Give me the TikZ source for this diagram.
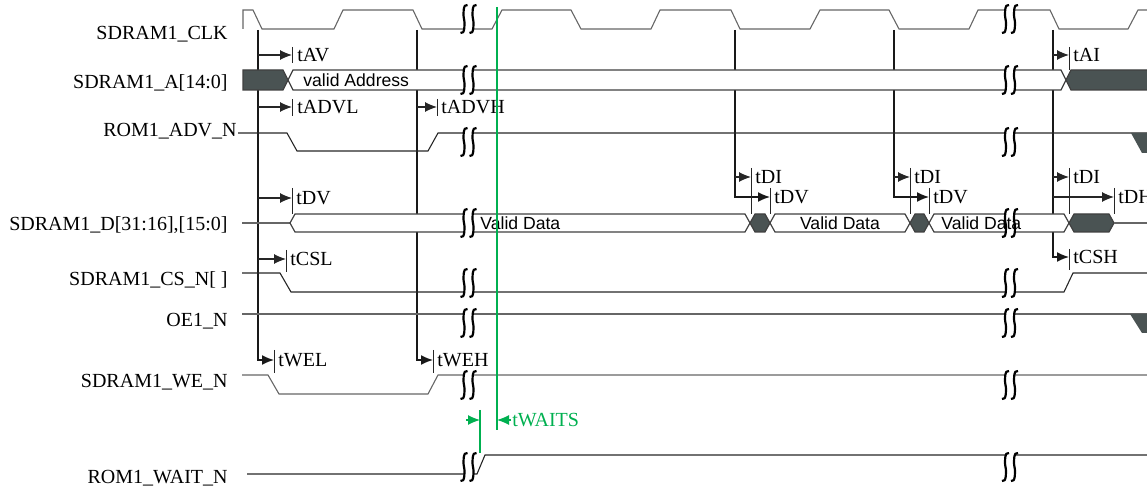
\documentclass[tikz,border=0pt]{standalone}
\usepackage{fontspec}
\setmainfont{Liberation Serif}
\setsansfont{Liberation Sans}
\usetikzlibrary{arrows.meta}
\usetikzlibrary{positioning}

\definecolor{busfill}{HTML}{4A5353}
\definecolor{waitgreen}{HTML}{00B050}

% break mark: centre x, centre y
\newcommand{\wavebreak}[2]{%
  \fill[white] ({#1-1},{#2-14}) .. controls ({#1-5.5},{#2-16}) and ({#1-5.5},{#2-4}) .. ({#1-4.5},{#2})
    .. controls ({#1-3.5},{#2+4}) and ({#1-3.5},{#2+16}) .. ({#1-8},{#2+14})
    -- ({#1+1},{#2+14}) .. controls ({#1+5.5},{#2+16}) and ({#1+5.5},{#2+4}) .. ({#1+4.5},{#2})
    .. controls ({#1+3.5},{#2-4}) and ({#1+3.5},{#2-16}) .. ({#1+8},{#2-14}) -- cycle;
  \draw[brk] ({#1-1},{#2-14}) .. controls ({#1-5.5},{#2-16}) and ({#1-5.5},{#2-4}) .. ({#1-4.5},{#2})
    .. controls ({#1-3.5},{#2+4}) and ({#1-3.5},{#2+16}) .. ({#1-8},{#2+14});
  \draw[brk] ({#1+8},{#2-14}) .. controls ({#1+3.5},{#2-16}) and ({#1+3.5},{#2-4}) .. ({#1+4.5},{#2})
    .. controls ({#1+5.5},{#2+4}) and ({#1+5.5},{#2+16}) .. ({#1+1},{#2+14});
}

\begin{document}
\begin{tikzpicture}[x=0.5pt, y=-0.5pt,
    sig/.style={black!85, line width=0.55pt},
    faint/.style={black!60, line width=0.55pt},
    bus/.style={draw=black!75, fill=white, line width=0.6pt},
    busdark/.style={draw=black!75, fill=busfill, line width=0.6pt},
    refline/.style={black!90, line width=0.75pt},
    tmark/.style={black!85, line width=0.5pt},
    arr/.style={-{Latex[length=6pt, width=5pt]}},
    brk/.style={black, line width=1.1pt},
    lbl/.style={anchor=base east, inner sep=0pt, font=\fontsize{10}{12}\selectfont},
    tlbl/.style={inner sep=0pt, font=\fontsize{10}{12}\selectfont},
    val/.style={inner sep=0pt, font=\sffamily\fontsize{8.8}{10}\selectfont}]

    \useasboundingbox (0,0) rectangle (1147,486);

    % signal names
    \node[lbl] (lclk) at (228,40) {SDRAM1\_CLK};
    \node[lbl] (laddr) at (228,89) {SDRAM1\_A[14:0]};
    \node[lbl] (ladv) at (237,137) {ROM1\_ADV\_N};
    \node[lbl] (ldata) at (228,231) {SDRAM1\_D[31:16],[15:0]};
    \node[lbl] (lcs) at (228,286) {SDRAM1\_CS\_N[ ]};
    \node[lbl] (loe) at (228,327) {OE1\_N};
    \node[lbl] (lwe) at (228,388) {SDRAM1\_WE\_N};
    \node[lbl] (lwait) at (228,483) {ROM1\_WAIT\_N};

    % reference lines and timing arrows
    \draw[refline, arr] (258,30) -- (258,360) -- (274,360);
    \draw[refline, arr] (417,30) -- (417,360) -- (433,360);
    \draw[refline, arr] (735,30) -- (735,197) -- (770,197);
    \draw[refline, arr] (894,30) -- (894,197) -- (929,197);
    \draw[refline, arr] (1053,30) -- (1053,257) -- (1069,257);
    \draw[sig, arr] (258,55) -- (292,55);
    \draw[sig, arr] (258,107) -- (292,107);
    \draw[sig, arr] (417,107) -- (437,107);
    \draw[sig, arr] (258,198) -- (292,198);
    \draw[sig, arr] (258,259) -- (286,259);
    \draw[sig, arr] (735,177) -- (751,177);
    \draw[sig, arr] (894,177) -- (910,177);
    \draw[sig, arr] (1053,55) -- (1069,55);
    \draw[sig, arr] (1053,177) -- (1069,177);
    \draw[sig, arr] (1053,197) -- (1114,197);

    % ticks
    \draw[tmark] (292,47) -- (292,63);
    \draw[tmark] (292,99) -- (292,116);
    \draw[tmark] (437,99) -- (437,116);
    \draw[tmark] (292,188) -- (292,214);
    \draw[tmark] (286,250) -- (286,272);
    \draw[tmark] (274,350) -- (274,373);
    \draw[tmark] (433,350) -- (433,373);
    \draw[tmark] (751,168) -- (751,214);
    \draw[tmark] (770,188) -- (770,214);
    \draw[tmark] (910,168) -- (910,214);
    \draw[tmark] (929,188) -- (929,214);
    \draw[tmark] (1069,47) -- (1069,70);
    \draw[tmark] (1069,168) -- (1069,214);
    \draw[tmark] (1114,188) -- (1114,214);
    \draw[tmark] (1069,249) -- (1069,270);

    % SDRAM1_CLK
    \draw[faint] (243,29) -- (243,10) -- (253,10) -- (262,29) -- (334,29) -- (343,10)
        -- (413,10) -- (422,29) -- (492,29) -- (502,10) -- (571,10) -- (581,29)
        -- (651,29) -- (660,10) -- (731,10) -- (740,29) -- (810,29) -- (820,10)
        -- (889,10) -- (899,29) -- (969,29) -- (978,10) -- (1050,10) -- (1059,29)
        -- (1128,29) -- (1138,10) -- (1150,10);

    % SDRAM1_A
    \draw[busdark] (243,70) -- (283,70) -- (288,80) -- (283,90) -- (243,90) -- cycle;
    \draw[bus] (288,80) -- (293,70) -- (1061,70) -- (1066,80) -- (1061,90) -- (293,90) -- cycle;
    \draw[busdark] (1066,80) -- (1071,70) -- (1152,70) -- (1152,90) -- (1071,90) -- cycle;

    % ROM1_ADV_N
    \draw[sig] (238,133) -- (287,133) -- (297,151) -- (428,151) -- (438,133) -- (1150,133);
    \fill[busfill] (1131,133) -- (1152,133) -- (1152,153) -- (1142,153) -- cycle;

    % SDRAM1_D
    \draw[faint] (242,223) -- (290,223);
    \draw[bus] (290,223) -- (295,214) -- (745,214) -- (750,223) -- (745,232) -- (295,232) -- cycle;
    \draw[busdark] (750,223) -- (755,214) -- (765,214) -- (770,223) -- (765,232) -- (755,232) -- cycle;
    \draw[bus] (770,223) -- (775,214) -- (905,214) -- (910,223) -- (905,232) -- (775,232) -- cycle;
    \draw[busdark] (910,223) -- (915,214) -- (924,214) -- (929,223) -- (924,232) -- (915,232) -- cycle;
    \draw[bus] (929,223) -- (934,214) -- (1064,214) -- (1069,223) -- (1064,232) -- (934,232) -- cycle;
    \draw[busdark] (1069,223) -- (1074,214) -- (1109,214) -- (1114,223) -- (1109,232) -- (1074,232) -- cycle;
    \draw[faint] (1114,223) -- (1150,223);

    % SDRAM1_CS_N
    \draw[sig] (242,273) -- (280,273) -- (291,292) -- (1064,292) -- (1073,273) -- (1150,273);

    % OE1_N
    \draw[faint] (242,314) -- (1150,314);
    \fill[busfill] (1130,314) -- (1152,314) -- (1152,333) -- (1142,333) -- cycle;

    % SDRAM1_WE_N
    \draw[faint] (242,375) -- (268,375) -- (279,394) -- (428,394) -- (438,375) -- (1150,375);

    % ROM1_WAIT_N
    \draw[sig] (247,474) -- (477,474) -- (485,455) -- (1150,455);

    % breaks
    \foreach \yb in {19,80,142,223,283,323,385,467} {
        \wavebreak{468.5}{\yb}
        \wavebreak{1010}{\yb}
    }

    % timing names
    \node[tlbl, anchor=west] (tav) at (297,55) {tAV};
    \node[tlbl, anchor=west] (tadvl) at (297,107) {tADVL};
    \node[tlbl, anchor=west] (tadvh) at (441,107) {tADVH};
    \node[tlbl, anchor=west] (tdv) at (296,198) {tDV};
    \node[tlbl, anchor=west] (tcsl) at (290,259) {tCSL};
    \node[tlbl, anchor=west] (twel) at (278,360) {tWEL};
    \node[tlbl, anchor=west] (tweh) at (437,360) {tWEH};
    \node[tlbl, anchor=west] (tdia) at (755,177) {tDI};
    \node[tlbl, anchor=west] (tdva) at (774,197) {tDV};
    \node[tlbl, anchor=west] (tdib) at (914,177) {tDI};
    \node[tlbl, anchor=west] (tdvb) at (933,197) {tDV};
    \node[tlbl, anchor=west] (tai) at (1073,55) {tAI};
    \node[tlbl, anchor=west] (tdic) at (1073,177) {tDI};
    \node[tlbl, anchor=west] (tdh) at (1118,197) {tDH};
    \node[tlbl, anchor=west] (tcsh) at (1073,257) {tCSH};

    % bus values
    \node[val, anchor=west] (vaddr) at (303,80) {valid Address};
    \node[val, anchor=west] (vdata1) at (480,223) {Valid Data};
    \node[val] (vdata2) at (840,223) {Valid Data};
    \node[val, anchor=west] (vdata3) at (941,223) {Valid Data};

    % wait setup
    \draw[waitgreen, line width=0.7pt] (497,7) -- (497,430);
    \draw[waitgreen, line width=0.7pt] (480,410) -- (480,453);
    \coordinate (wsa) at (466,420);
    \coordinate (wsb) at (480,420);
    \coordinate (wsc) at (511,420);
    \coordinate (wsd) at (497,420);
    \draw[waitgreen, line width=0.6pt, arr] (wsa) -- (wsb);
    \draw[waitgreen, line width=0.6pt, arr] (wsc) -- (wsd);
    \node[tlbl, text=waitgreen, right=0.5pt of wsc] (twaits) {tWAITS};
\end{tikzpicture}
\end{document}
